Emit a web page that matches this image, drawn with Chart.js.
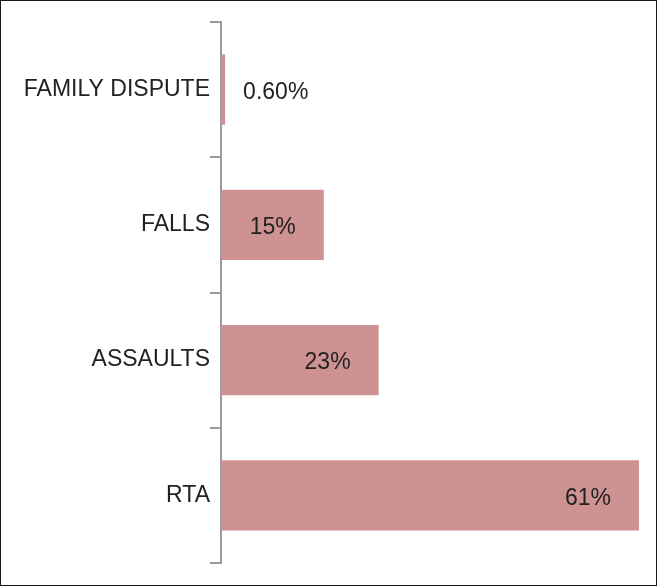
<!DOCTYPE html>
<html>
<head>
<meta charset="utf-8">
<script src="https://cdn.jsdelivr.net/npm/chart.js@4.4.1/dist/chart.umd.min.js"></script>
<style>
  html, body { margin: 0; padding: 0; background: #fff; }
  canvas { display: block; }
</style>
</head>
<body>
<canvas id="injuryChart" width="657" height="586"></canvas>
<script>
// data
const categories = ['FAMILY DISPUTE', 'FALLS', 'ASSAULTS', 'RTA'];
const percentValues = [0.6, 15, 23, 61];
const valueLabels = ['0.60%', '15%', '23%', '61%'];

const fontFamily = "'Liberation Sans', Arial, sans-serif";

// labels: inside the bar end when there's room, otherwise just after it
const barLabels = {
  id: 'barLabels',
  afterDatasetsDraw(chart) {
    const ctx = chart.ctx;
    const meta = chart.getDatasetMeta(0);
    ctx.save();
    ctx.font = '23px ' + fontFamily;
    ctx.fillStyle = '#222222';
    ctx.textBaseline = 'middle';
    meta.data.forEach((bar, i) => {
      const w = bar.x - bar.base;
      if (w > 80) {
        ctx.textAlign = 'right';
        ctx.fillText(valueLabels[i], bar.x - 28, bar.y + 3);
      } else {
        ctx.textAlign = 'left';
        ctx.fillText(valueLabels[i], bar.x + 18, bar.y + 3);
      }
    });
    ctx.restore();
  }
};

// outer frame
const frame = {
  id: 'frame',
  afterDraw(chart) {
    const ctx = chart.ctx;
    ctx.save();
    ctx.strokeStyle = '#1a1a1a';
    ctx.lineWidth = 1;
    ctx.strokeRect(0.5, 0.5, chart.width - 1, chart.height - 1);
    ctx.restore();
  }
};

new Chart(document.getElementById('injuryChart').getContext('2d'), {
  type: 'bar',
  data: {
    labels: categories,
    datasets: [{
      data: percentValues,
      backgroundColor: '#CF9293',
      borderWidth: 0,
      barPercentage: 0.52,
      categoryPercentage: 1
    }]
  },
  options: {
    indexAxis: 'y',
    responsive: false,
    animation: false,
    devicePixelRatio: 1,
    layout: { padding: { top: 22, bottom: 23, right: 18, left: 0 } },
    plugins: {
      legend: { display: false },
      tooltip: { enabled: false }
    },
    scales: {
      x: {
        display: false,
        min: 0,
        max: 61
      },
      y: {
        afterFit(scale) { scale.width = 221; },
        grid: {
          offset: true,
          drawOnChartArea: false,
          drawTicks: true,
          tickLength: 11,
          color: '#9a9a9a',
          lineWidth: 2
        },
        border: { display: true, color: '#9a9a9a', width: 2 },
        ticks: {
          padding: 0,
          color: '#222222',
          font: { size: 23, family: fontFamily }
        }
      }
    }
  },
  plugins: [barLabels, frame]
});
</script>
</body>
</html>
